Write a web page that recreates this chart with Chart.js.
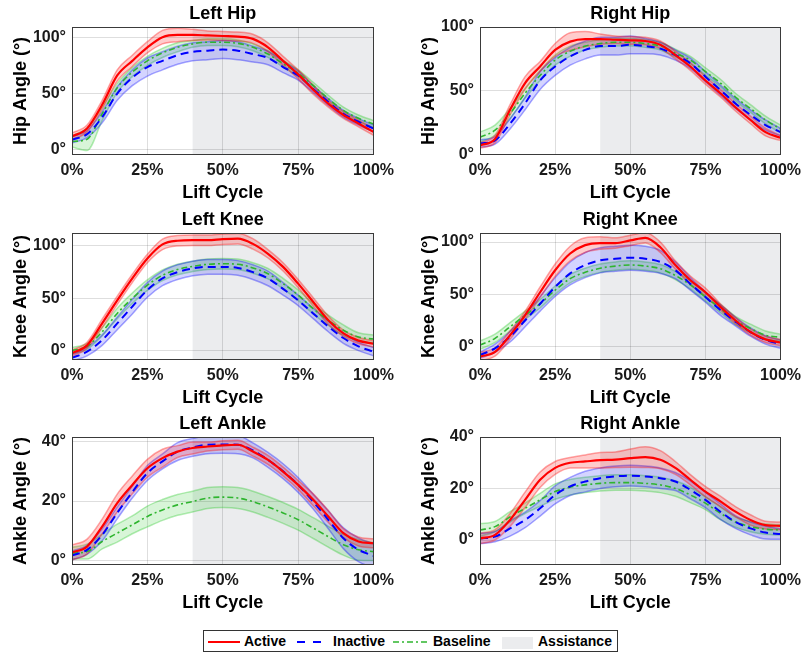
<!DOCTYPE html>
<html>
<head>
<meta charset="utf-8">
<script src="https://cdn.jsdelivr.net/npm/chart.js@4.4.1/dist/chart.umd.min.js"></script>
<style>
  body { margin: 0; background: #fff; width: 807px; height: 658px; position: relative; overflow: hidden;
         font-family: 'Liberation Sans', Arial, Helvetica, sans-serif; }
  canvas { position: absolute; }
  #legend { position: absolute; left: 203px; top: 630px; width: 415px; height: 22px; box-sizing: border-box;
            border: 1px solid #333; background: #fff; }
  #legend span { position: absolute; top: 0; line-height: 20px; font-size: 14px; font-weight: bold; color: #000; white-space: nowrap; }
  #legend svg { position: absolute; top: 0; }
  #legend .patch { position: absolute; top: 6px; width: 31px; height: 12px; background: #ebecee; }
</style>
</head>
<body>
<canvas id="leftHip" width="400" height="205" style="left:0;top:0"></canvas>
<canvas id="rightHip" width="399" height="205" style="left:408px;top:0"></canvas>
<canvas id="leftKnee" width="400" height="204" style="left:0;top:206px"></canvas>
<canvas id="rightKnee" width="399" height="204" style="left:408px;top:206px"></canvas>
<canvas id="leftAnkle" width="400" height="205" style="left:0;top:410px"></canvas>
<canvas id="rightAnkle" width="399" height="205" style="left:408px;top:410px"></canvas>

<div id="legend">
  <svg style="left:4px" width="32" height="20"><line x1="0" y1="11" x2="32" y2="11" stroke="#ff0000" stroke-width="2"/></svg>
  <span style="left:40px">Active</span>
  <svg style="left:93px" width="24" height="20"><line x1="0" y1="11" x2="24" y2="11" stroke="#0000ff" stroke-width="2" stroke-dasharray="8,8"/></svg>
  <span style="left:129px">Inactive</span>
  <svg style="left:189px" width="35" height="20"><line x1="0" y1="11" x2="35" y2="11" stroke="#2fb52f" stroke-width="1.6" stroke-dasharray="6,3,2,3"/></svg>
  <span style="left:229px">Baseline</span>
  <div class="patch" style="left:298px"></div>
  <span style="left:334px">Assistance</span>
</div>

<script>
// lift cycle (%) and axis ticks
const cycle = [0, 5, 10, 15, 20, 25, 30, 35, 40, 45, 50, 55, 60, 65, 70, 75, 80, 85, 90, 95, 100];
const xTicks = [0, 25, 50, 75, 100];
const bigTicks = [0, 50, 100];
const ankleTicks = [0, 20, 40];
const assistStart = 40;
const assistEnd = 100;

// Left hip
const leftHipActive = [12, 19, 40, 66, 79, 91, 100, 102, 102, 101.5, 101, 100.5, 98.5, 91, 79, 67, 53.5, 41, 31, 23.5, 16];
const leftHipActiveSd = [3, 3, 4, 5, 5, 5, 6, 6, 5, 4, 4, 4, 4, 4, 4, 4, 4, 3, 3, 3, 3];
const leftHipInactive = [9, 14, 29, 50, 64, 73.5, 79, 84, 87, 88, 89, 88, 85, 81.5, 73.5, 66, 54, 42.5, 32, 25, 19];
const leftHipInactiveSd = [3, 3, 5, 6, 7, 8, 8, 8, 8, 8, 8, 8, 7, 6, 5, 4, 3, 3, 3, 3, 3];
const leftHipBaseline = [7.5, 9.5, 32, 55, 69, 79, 86, 91, 94, 95.5, 95.5, 94.5, 91, 85, 76.5, 68, 57, 45.5, 35, 28, 23];
const leftHipBaselineSd = [5, 10, 6, 4, 4, 4, 4, 4, 3, 3, 3, 3, 3, 3, 3, 3, 3, 3, 3, 3, 3];

// Right hip
const rightHipActive = [7, 12, 35, 56, 69, 82, 88.5, 90.5, 90.5, 90, 89.5, 89, 86, 78, 69, 58, 48, 37, 27, 17.5, 13];
const rightHipActiveSd = [2, 3, 4, 5, 4, 5, 7, 6, 4, 3, 3, 3, 3, 3, 3, 3, 3, 3, 3, 3, 2];
const rightHipInactive = [8.5, 11, 24, 40, 58, 69, 77, 82, 85, 85, 86, 85, 83, 78, 71.5, 61, 50.5, 40, 31, 23, 17.5];
const rightHipInactiveSd = [3, 3, 4, 5, 7, 7, 7, 7, 7, 7, 7, 6, 5, 4, 4, 4, 4, 4, 4, 4, 3];
const rightHipBaseline = [13.5, 19, 32, 48, 62, 74, 81, 85, 87, 88, 88, 87, 85, 79.5, 74, 65, 56, 45, 36, 27, 20];
const rightHipBaselineSd = [4, 4, 4, 4, 4, 4, 4, 3, 3, 3, 3, 3, 3, 3, 3, 3, 3, 3, 3, 3, 3];

// Left knee
const leftKneeActive = [-2.5, 5, 26, 48, 69, 88, 101.5, 105, 105.5, 105.5, 106.5, 107, 102, 92.5, 80, 64, 46.5, 29, 16.5, 9.5, 6.5];
const leftKneeActiveSd = [3, 3, 4, 4, 4, 4, 5, 5, 5, 5, 5, 5, 5, 4, 4, 4, 4, 4, 3, 3, 3];
const leftKneeInactive = [-7, -1, 10, 26, 42, 58, 69, 75, 78.5, 80, 80, 79, 75, 69, 59, 48, 35.5, 23, 12, 4, -1];
const leftKneeInactiveSd = [3, 4, 5, 6, 7, 7, 7, 7, 7, 7, 7, 7, 7, 7, 6, 5, 5, 5, 5, 4, 4];
const leftKneeBaseline = [0, 4, 18, 35.5, 50, 62.5, 72, 77.5, 80.5, 82.5, 83, 82.5, 79, 73.5, 64, 53, 40, 29, 19.5, 13, 11];
const leftKneeBaselineSd = [3, 3, 4, 5, 5, 5, 5, 5, 5, 5, 5, 5, 5, 5, 5, 5, 5, 5, 5, 4, 4];

// Right knee
const rightKneeActive = [-9.5, -5, 11, 30, 52, 73, 89, 97, 99, 99, 101.5, 104, 95, 78, 63.5, 52, 38, 25, 14, 7, 4];
const rightKneeActiveSd = [4, 4, 4, 4, 5, 6, 7, 7, 6, 5, 5, 5, 5, 4, 4, 4, 3, 3, 3, 3, 3];
const rightKneeInactive = [-8, -1.5, 9.5, 25, 41, 57, 70, 78, 82.5, 84, 85, 84, 81, 73, 60, 47.5, 35, 24, 14, 6.5, 2.5];
const rightKneeInactiveSd = [3, 4, 5, 6, 7, 9, 11, 12, 12, 12, 12, 12, 11, 8, 6, 5, 5, 4, 4, 4, 4];
const rightKneeBaseline = [1.5, 8, 19, 30, 41, 54, 65, 71, 75, 77, 78, 77, 74.5, 68, 59, 47.5, 36.5, 25, 17.5, 11, 9];
const rightKneeBaselineSd = [4, 4, 4, 4, 4, 4, 4, 4, 4, 4, 4, 4, 4, 4, 4, 4, 4, 4, 4, 4, 3];

// Left ankle
const leftAnkleActive = [2.7, 4.7, 11.4, 19.3, 25.4, 31, 34.4, 36.6, 37.8, 38.3, 38.7, 38.9, 36.6, 33.8, 29.9, 25.4, 20.4, 14.8, 9.2, 6.4, 5.8];
const leftAnkleActiveSd = [2.5, 2.5, 2.5, 3, 3, 3, 3, 2, 2, 1.5, 1.5, 1.5, 1.5, 1.5, 1.5, 1.5, 2, 2, 1.5, 1.5, 1.5];
const leftAnkleInactive = [1.7, 3.6, 8.6, 16, 23, 29.4, 33.3, 36.6, 38, 38.9, 39, 38.9, 37, 33.8, 30, 25.4, 19.8, 13.7, 7.5, 3.6, 1.6];
const leftAnkleInactiveSd = [1.5, 1.5, 2, 2, 2, 2.5, 2.5, 3, 3, 3, 3, 3, 2.5, 2.5, 2.5, 2.5, 2.5, 3, 3.5, 4, 4];
const leftAnkleBaseline = [2.5, 3, 6.4, 9.2, 12, 14.8, 17, 18.7, 19.8, 21, 21.3, 21, 19.8, 18, 16, 13.7, 10.9, 8, 5.3, 3.6, 3];
const leftAnkleBaselineSd = [2, 2.5, 2.5, 3, 3, 3.5, 3.5, 3.5, 3.5, 3.5, 3.5, 3.5, 3.5, 3.5, 3.5, 3.5, 3.5, 3.5, 3.5, 3.5, 3];

// Right ankle
const rightAnkleActive = [0.6, 2, 7.8, 15.6, 23.4, 28, 30, 30.5, 31, 31.2, 31.8, 32.2, 31.2, 28, 23.4, 18.8, 15, 11, 7.8, 5.8, 5.5];
const rightAnkleActiveSd = [2, 2, 2.5, 3, 3, 2.5, 2, 2.5, 3, 3, 3.5, 4, 3.5, 2.5, 2, 2, 2, 2, 2, 1.5, 1.5];
const rightAnkleInactive = [0.6, 1.3, 4.5, 7.8, 12.3, 17.5, 20.8, 22.7, 24, 24.7, 25, 24.7, 24, 22.7, 19.5, 15.6, 11, 7, 4.5, 2.9, 2.3];
const rightAnkleInactiveSd = [2, 2, 3, 3, 3, 3.5, 3.5, 4, 4, 4, 4, 4, 4, 3.5, 3.5, 3, 3, 2.5, 2.5, 2.5, 2];
const rightAnkleBaseline = [3.9, 5.2, 9, 12.3, 15.6, 18.8, 20.5, 21.4, 22, 22.3, 22.3, 22, 21.4, 20, 17.5, 14.3, 10.4, 7, 5.2, 4.2, 3.9];
const rightAnkleBaselineSd = [2.5, 2, 2, 2, 2.5, 3, 3, 3, 3, 3, 3, 3, 3, 3, 3, 2.5, 2.5, 2, 2, 2, 2];

const FONT = "'Liberation Sans', Arial, Helvetica, sans-serif";
Chart.defaults.font.family = FONT;

// gray assistance band, axes box and panel title
const panelDecor = {
  id: 'panelDecor',
  beforeDraw(chart) {
    const { ctx, chartArea: a, scales: { x } } = chart;
    const x0 = x.getPixelForValue(assistStart);
    const x1 = x.getPixelForValue(assistEnd);
    ctx.save();
    ctx.fillStyle = '#ebecee';
    ctx.fillRect(x0, a.top, x1 - x0, a.bottom - a.top);
    ctx.restore();
  },
  afterDraw(chart, args, opts) {
    const { ctx, chartArea: a } = chart;
    ctx.save();
    ctx.strokeStyle = '#3a3a3a';
    ctx.lineWidth = 1;
    ctx.strokeRect(Math.round(a.left) + 0.5, Math.round(a.top) + 0.5,
                   Math.round(a.right - a.left) - 1, Math.round(a.bottom - a.top) - 1);
    ctx.fillStyle = '#000';
    ctx.font = 'bold 18px ' + FONT;
    ctx.textAlign = 'center';
    ctx.textBaseline = 'middle';
    ctx.fillText(opts.text, (a.left + a.right) / 2, a.top - 13);
    ctx.restore();
  }
};

const pts = arr => cycle.map((c, i) => ({ x: c, y: arr[i] }));
const upper = (m, s) => pts(m.map((v, i) => v + s[i]));
const lower = (m, s) => pts(m.map((v, i) => v - s[i]));

function band(m, s, fillCol, edgeCol) {
  return [
    { data: upper(m, s), fill: '+1', backgroundColor: fillCol, borderColor: edgeCol, borderWidth: 1.5 },
    { data: lower(m, s), fill: false, borderColor: edgeCol, borderWidth: 1.5 }
  ];
}

function makePanel(id, title, yTitle, yMin, yMax, yTicks, padRight, act, actSd, ina, inaSd, base, baseSd) {
  new Chart(document.getElementById(id), {
    type: 'line',
    data: {
      datasets: [
        { label: 'Active', data: pts(act), borderColor: '#ff0000', borderWidth: 2.2, fill: false },
        { label: 'Inactive', data: pts(ina), borderColor: '#0000ff', borderWidth: 2, borderDash: [8, 5], fill: false },
        { label: 'Baseline', data: pts(base), borderColor: '#2fb52f', borderWidth: 1.6, borderDash: [6, 3, 2, 3], fill: false },
        ...band(act, actSd, 'rgba(255,0,0,0.2)', 'rgba(255,0,0,0.35)'),
        ...band(ina, inaSd, 'rgba(0,0,255,0.17)', 'rgba(0,0,255,0.35)'),
        ...band(base, baseSd, 'rgba(40,200,40,0.18)', 'rgba(40,200,40,0.35)')
      ]
    },
    options: {
      responsive: false,
      animation: false,
      layout: { padding: { top: 27, left: 0, right: padRight, bottom: 0 } },
      elements: {
        point: { radius: 0 },
        line: { cubicInterpolationMode: 'monotone' }
      },
      plugins: {
        legend: { display: false },
        tooltip: { enabled: false },
        panelDecor: { text: title }
      },
      scales: {
        x: {
          type: 'linear', min: 0, max: 100,
          afterBuildTicks: s => { s.ticks = xTicks.map(v => ({ value: v })); },
          afterFit: s => { s.height = 50; },
          grid: { color: 'rgba(0,0,0,0.13)', drawTicks: false },
          border: { display: false },
          ticks: { padding: 6, maxRotation: 0, color: '#1a1a1a', font: { size: 16, weight: 'bold' }, callback: v => v + '%' },
          title: { display: true, text: 'Lift Cycle', color: '#000', font: { size: 18, weight: 'bold', lineHeight: 1 }, padding: { top: 0, bottom: 3 } }
        },
        y: {
          min: yMin, max: yMax,
          afterBuildTicks: s => { s.ticks = yTicks.map(v => ({ value: v })); },
          afterFit: s => { s.width = 72; },
          grid: { color: 'rgba(0,0,0,0.13)', drawTicks: false },
          border: { display: false },
          ticks: { padding: 6, color: '#1a1a1a', font: { size: 16, weight: 'bold' }, callback: v => v + '°' },
          title: { display: true, text: yTitle, color: '#000', font: { size: 18, weight: 'bold', lineHeight: 1 }, padding: { top: 12, bottom: 0 } }
        }
      }
    },
    plugins: [panelDecor]
  });
}

makePanel('leftHip', 'Left Hip', 'Hip Angle (°)', -4.5, 109, bigTicks, 24,
  leftHipActive, leftHipActiveSd, leftHipInactive, leftHipInactiveSd, leftHipBaseline, leftHipBaselineSd);
makePanel('rightHip', 'Right Hip', 'Hip Angle (°)', -0.5, 100, bigTicks, 22,
  rightHipActive, rightHipActiveSd, rightHipInactive, rightHipInactiveSd, rightHipBaseline, rightHipBaselineSd);
makePanel('leftKnee', 'Left Knee', 'Knee Angle (°)', -9, 112.4, bigTicks, 24,
  leftKneeActive, leftKneeActiveSd, leftKneeInactive, leftKneeInactiveSd, leftKneeBaseline, leftKneeBaselineSd);
makePanel('rightKnee', 'Right Knee', 'Knee Angle (°)', -12.7, 108.6, bigTicks, 22,
  rightKneeActive, rightKneeActiveSd, rightKneeInactive, rightKneeInactiveSd, rightKneeBaseline, rightKneeBaselineSd);
makePanel('leftAnkle', 'Left Ankle', 'Ankle Angle (°)', -1.5, 41.5, ankleTicks, 24,
  leftAnkleActive, leftAnkleActiveSd, leftAnkleInactive, leftAnkleInactiveSd, leftAnkleBaseline, leftAnkleBaselineSd);
makePanel('rightAnkle', 'Right Ankle', 'Ankle Angle (°)', -9.7, 40, ankleTicks, 22,
  rightAnkleActive, rightAnkleActiveSd, rightAnkleInactive, rightAnkleInactiveSd, rightAnkleBaseline, rightAnkleBaselineSd);
</script>
</body>
</html>
